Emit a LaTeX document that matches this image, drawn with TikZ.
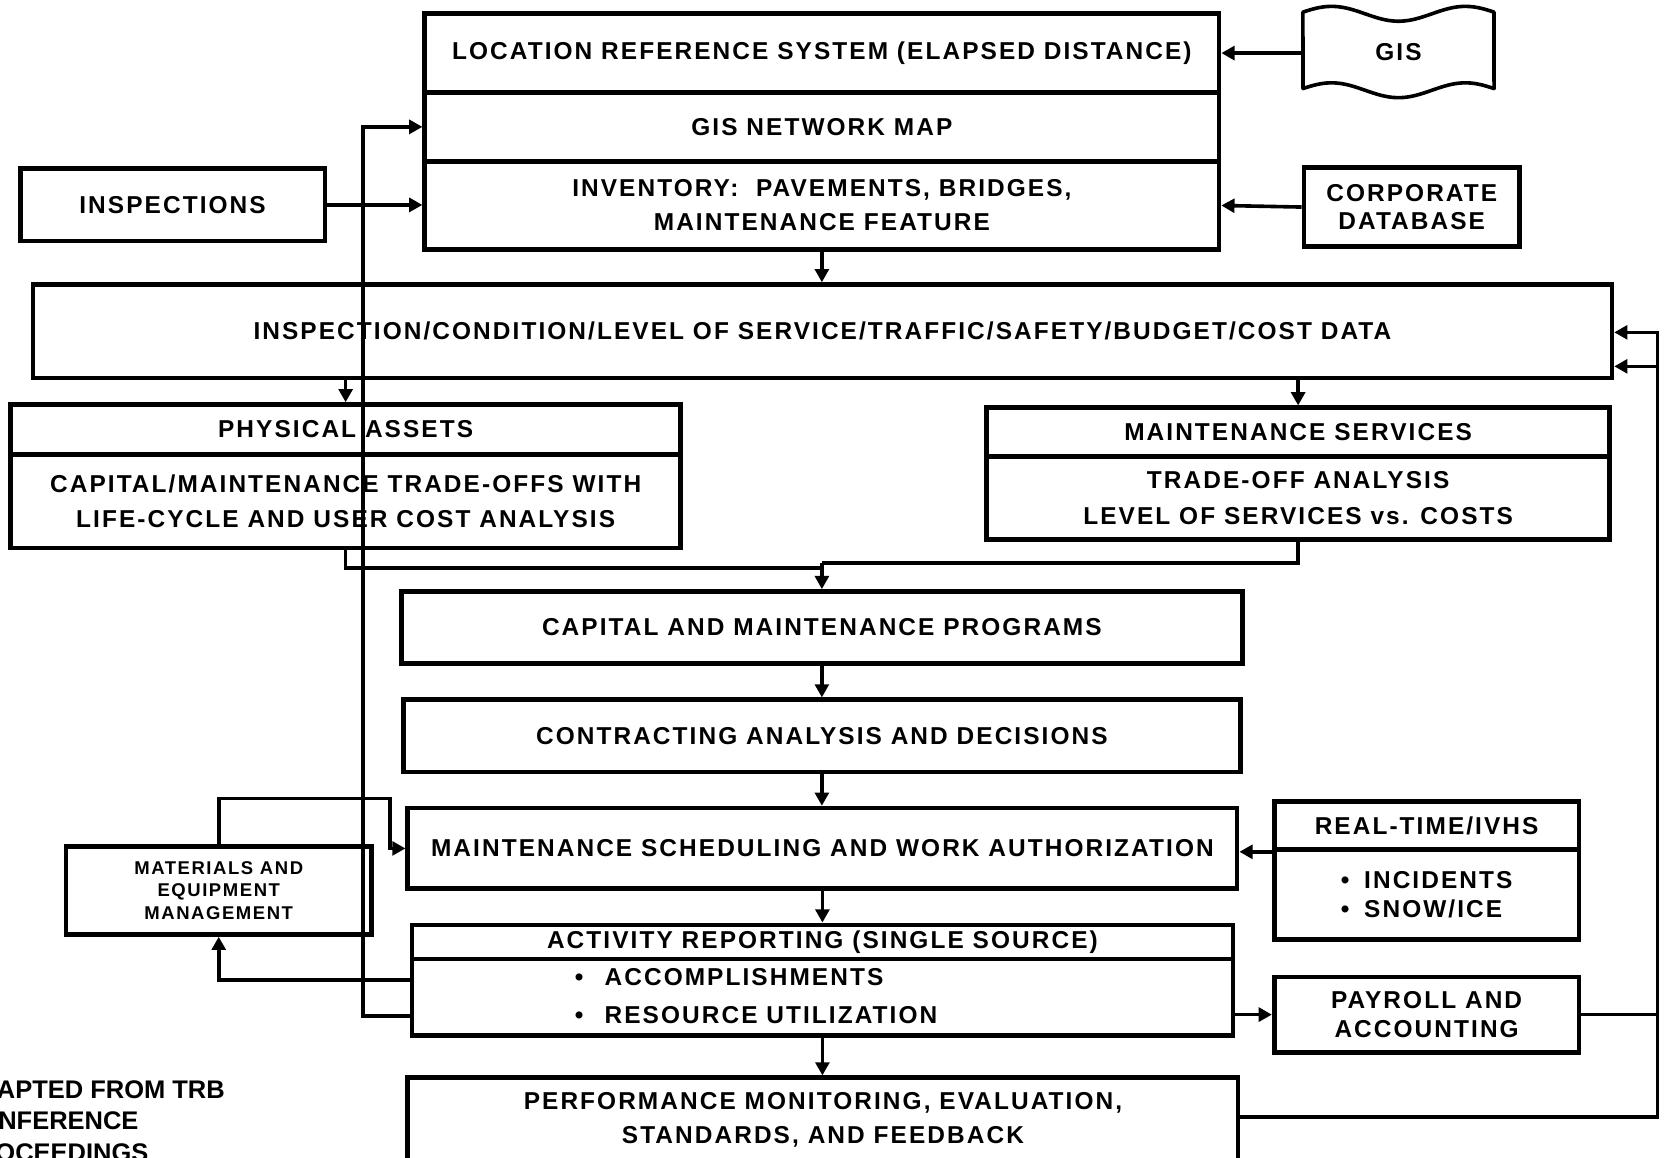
\documentclass[tikz,border=0pt]{standalone}
\usepackage{fontspec}
\setmainfont{Liberation Sans}
\newfontfamily\boxfont{Liberation Sans}[LetterSpace=8.5]
\usetikzlibrary{arrows.meta}

\tikzset{
  lead/.style={font=\boxfont\bfseries\fontsize{11.5}{#1}\selectfont},
  box/.style={draw, line width=2.2pt, inner sep=0pt, align=center, lead=16},
  small/.style={font=\boxfont\bfseries\fontsize{8.7}{10.5}\selectfont},
  conn/.style={line width=1.7pt},
  arr/.style={conn, -{Triangle[length=6.2pt,width=6.5pt]}},
}

% \blk{style}{name}{x1}{y1}{x2}{y2}{text}: box between two corners
\newcommand\blk[7]{%
  \node[box,#1, minimum width={(#5-#3)*0.5pt}, minimum height={(#6-#4)*0.5pt}]
    (#2) at ({(#3+#5)/2},{(#4+#6)/2}) {#7};}

\begin{document}
\begin{tikzpicture}[x=0.5pt,y=-0.5pt]
\useasboundingbox (0,0) rectangle (1568,1090);

% ---- boxes ----
\blk{}{lrs1}{400}{13}{1148}{87}{LOCATION REFERENCE SYSTEM (ELAPSED DISTANCE)}
\blk{}{lrs2}{400}{87}{1148}{152}{GIS NETWORK MAP}
\blk{lead=16}{lrs3}{400}{152}{1148}{235}{INVENTORY:~\ PAVEMENTS, BRIDGES,\\MAINTENANCE FEATURE}
\blk{}{insp}{19}{159}{306}{227}{INSPECTIONS}
\blk{lead=13.5}{corp}{1228}{158}{1431}{232}{CORPORATE\\DATABASE}
\blk{}{data}{31}{268}{1518}{356}{INSPECTION/CONDITION/LEVEL OF SERVICE/TRAFFIC/SAFETY/BUDGET/COST DATA}
\blk{}{phys1}{10}{381}{641}{428}{PHYSICAL ASSETS}
\blk{lead=16.5}{phys2}{10}{428}{641}{516}{CAPITAL/MAINTENANCE TRADE-OFFS WITH\\LIFE-CYCLE AND USER COST ANALYSIS}
\blk{}{ms1}{929}{384}{1516}{430}{MAINTENANCE SERVICES}
\blk{lead=17}{ms2}{929}{430}{1516}{508}{TRADE-OFF ANALYSIS\\LEVEL OF SERVICES vs. COSTS}
\blk{}{cap}{378}{557}{1170}{625}{CAPITAL AND MAINTENANCE PROGRAMS}
\blk{}{cad}{380}{659}{1168}{727}{CONTRACTING ANALYSIS AND DECISIONS}
\blk{}{sched}{384}{761}{1165}{837}{MAINTENANCE SCHEDULING AND WORK AUTHORIZATION}
\blk{}{act1}{388}{871}{1161}{903}{ACTIVITY REPORTING (SINGLE SOURCE)}
\blk{}{act2}{388}{903}{1161}{975}{}
\blk{lead=16}{perf}{384}{1015}{1166}{1094}{PERFORMANCE MONITORING, EVALUATION,\\STANDARDS, AND FEEDBACK}
\blk{}{rt1}{1200}{755}{1487}{800}{REAL-TIME/IVHS}
\blk{lead=14,align=left}{rt2}{1200}{800}{1487}{885}{\makebox[11pt][l]{•}INCIDENTS\\\makebox[11pt][l]{•}SNOW/ICE}
\blk{lead=13.5}{pay}{1200}{920}{1487}{991}{PAYROLL AND\\ACCOUNTING}
\blk{small}{mat}{62}{797}{350}{880}{MATERIALS AND\\EQUIPMENT\\MANAGEMENT}

% activity list
\node[lead=18, align=left, anchor=west, inner sep=0pt] (actlist) at (541,938)
  {\makebox[14pt][l]{•}ACCOMPLISHMENTS\\\makebox[14pt][l]{•}RESOURCE UTILIZATION};

% GIS document with wavy top and bottom edges
\draw[line width=1.7pt, line join=round]
  plot[domain=0:1, samples=50, smooth] ({1227+180*\x},{13-7*cos(514.3*(\x-0.15))})
  -- plot[domain=1:0, samples=50, smooth] ({1227+180*\x},{85-7*cos(514.3*(\x-0.15))})
  -- cycle;
\node[font=\boxfont\bfseries\fontsize{11.5}{13}\selectfont, minimum width=90pt,
      minimum height=37pt, inner sep=0pt] (gis) at (1317,49) {GIS};

% note in the lower left corner
\node[anchor=north west, inner sep=0pt, align=left,
      font=\bfseries\fontsize{12}{15}\selectfont] (note) at (-38,1017)
  {ADAPTED FROM TRB\\CONFERENCE\\PROCEEDINGS};

% ---- connectors ----
\draw[arr] (gis.west |- lrs1.east) -- (lrs1.east);
\draw[arr] (corp.west) -- (lrs3.east);
\draw[arr] (insp.east) -- (insp.east -| lrs3.west);
\draw[arr] (lrs3.south) -- (lrs3.south |- data.north);
\draw[arr] (phys1.north |- data.south) -- (phys1.north);
\draw[arr] (ms1.north |- data.south) -- (ms1.north);

\coordinate (jm) at (774,530);
\coordinate (jp) at (774,535);
\draw[conn] (phys2.south) |- (jp);
\draw[conn] (ms2.south) |- (jm);
\draw[arr] (jm) -- (jm |- cap.north);
\draw[arr] (cap.south) -- (cap.south |- cad.north);
\draw[arr] (cad.south) -- (cad.south |- sched.north);
\draw[arr] (sched.south) -- (sched.south |- act1.north);
\draw[arr] (act2.south) -- (act2.south |- perf.north);

\draw[arr] (rt1.south west) -- (rt1.south west -| sched.east);
\draw[arr] (pay.west -| act2.east) -- (pay.west);

% feedback on the right
\coordinate (rx) at (1561,313);
\coordinate (ry) at (1561,345);
\draw[arr] ([yshift=1.25pt]perf.east) -| (rx) -- (rx -| data.east);
\draw[arr] (pay.east) -| (ry) -- (ry -| data.east);

% materials and equipment loop
\coordinate (mtop) at (367,752);
\draw[arr] (mat.north) |- (mtop) |- (sched.west);
\draw[arr] ([yshift=8pt]act2.west) -| (mat.south);

% feedback on the left to the network map
\coordinate (lx) at (342,600);
\draw[arr] ([yshift=-9pt]act2.west) -| (lx) |- (lrs2.west);
\end{tikzpicture}
\end{document}
